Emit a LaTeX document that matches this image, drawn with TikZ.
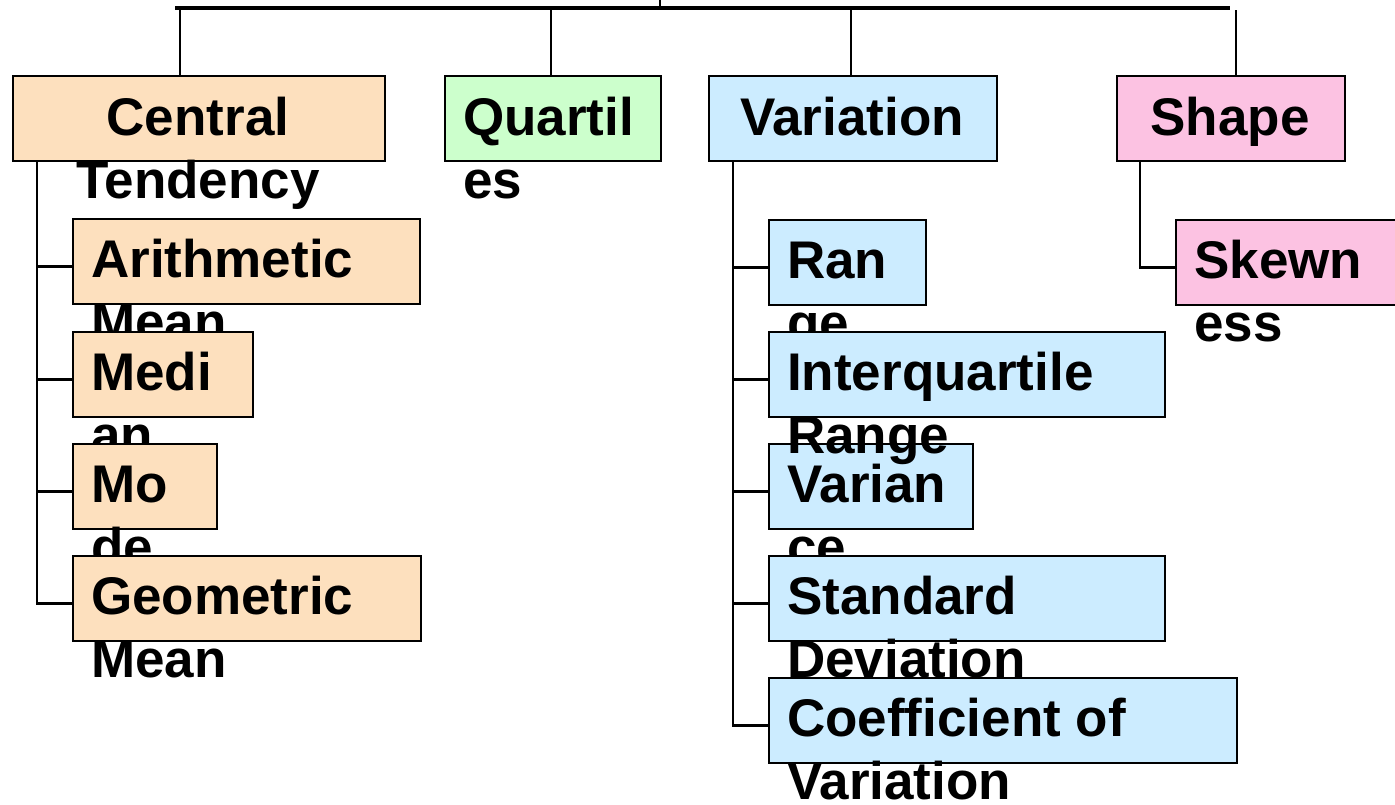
\documentclass[tikz,border=0pt]{standalone}
\usepackage{fontspec}
\setmainfont{Liberation Sans}

\definecolor{ctpeach}{RGB}{253,224,190}
\definecolor{qgreen}{RGB}{204,255,204}
\definecolor{vblue}{RGB}{204,236,255}
\definecolor{spink}{RGB}{252,194,226}

\tikzset{
	box/.style={draw, line width=1.6pt, inner sep=0pt, minimum height=85pt},
	lbl/.style={font=\fontsize{53}{63}\selectfont\bfseries, inner sep=0pt, align=left},
	wire/.style={line width=2.4pt}
}

% box with a two-line label that runs out of it (base = last line)
\newcommand{\leafbox}[6]{
	\node[box, fill=#5, minimum width=#4pt, anchor=north west] (#1) at (#2,#3) {};
	\node[lbl, anchor=base west] (#1-t) at ([xshift=19pt,yshift=-122pt]#1.north west) {#6};
}

\begin{document}
\begin{tikzpicture}[x=1pt,y=-1pt]
\useasboundingbox (0,0) rectangle (1395,804);
\clip (0,0) rectangle (1395,804);

% top bar
\coordinate (root) at (660,0);
\coordinate (bus-l) at (175,8);
\coordinate (bus-r) at (1230,8);
\draw[line width=3.5pt] (bus-l) -- (bus-r);
\draw[wire] (root) -- (root |- bus-l);

% groups
\node[box, fill=ctpeach, minimum width=372pt, anchor=north west] (central) at (12,75) {};
\node[lbl, anchor=base, align=center] (central-t) at (198,198) {Central\\Tendency};
\node[box, fill=qgreen, minimum width=216pt, anchor=north west] (quart) at (444,75) {};
\node[lbl, anchor=base west] (quart-t) at (463,198) {Quartil\\es};
\node[box, fill=vblue, minimum width=288pt, anchor=north west] (var) at (708,75) {};
\node[lbl, anchor=base] (var-t) at (852,135) {Variation};
\node[box, fill=spink, minimum width=228pt, anchor=north west] (shape) at (1116,75) {};
\node[lbl, anchor=base] (shape-t) at (1230,135) {Shape};

\foreach \x/\g in {180/central, 551/quart, 851/var, 1236/shape}{
	\coordinate (d-\g) at (\x,10);
	\draw[wire] (d-\g) -- (d-\g |- \g.north);
}

% central tendency
\leafbox{amean}{72}{218}{347}{ctpeach}{Arithmetic\\Mean}
\leafbox{median}{72}{331}{180}{ctpeach}{Medi\\an}
\leafbox{mode}{72}{443}{144}{ctpeach}{Mo\\de}
\leafbox{gmean}{72}{555}{348}{ctpeach}{Geometric\\Mean}

% variation
\leafbox{range}{768}{219}{157}{vblue}{Ran\\ge}
\leafbox{variance}{768}{443}{204}{vblue}{Varian\\ce}
\leafbox{iqr}{768}{331}{396}{vblue}{Interquartile\\Range}
\leafbox{stdev}{768}{555}{396}{vblue}{Standard\\Deviation}
\leafbox{cov}{768}{677}{468}{vblue}{Coefficient of\\Variation}

% shape
\leafbox{skew}{1175}{219}{260}{spink}{Skewn\\ess}

\coordinate (ct-spine) at (37,160);
\coordinate (var-spine) at (733,160);
\coordinate (shape-spine) at (1140,160);
\foreach \b in {amean, median, mode, gmean}
	\draw[wire] (ct-spine) |- ([yshift=-5pt]\b.west);
\foreach \b in {range, iqr, variance, stdev, cov}
	\draw[wire] (var-spine) |- ([yshift=-5pt]\b.west);
\draw[wire] (shape-spine) |- ([yshift=-5pt]skew.west);
\end{tikzpicture}
\end{document}
